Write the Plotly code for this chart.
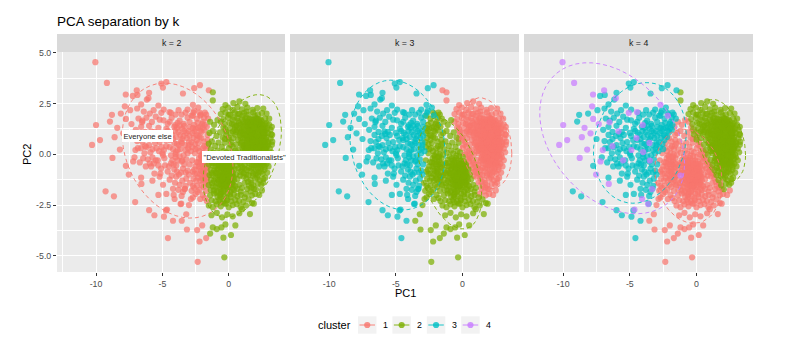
import numpy as np
import plotly.graph_objects as go

# ------------------------------------------------------------------ data
facet_k = [2, 3, 4]
clusters = ["1", "2", "3", "4"]
x_tickvals = [-10, -5, 0]
x_ticktext = ["-10", "-5", "0"]
y_tickvals = [-5, -2.5, 0, 2.5, 5]
y_ticktext = ["-5.0", "-2.5", "0.0", "2.5", "5.0"]

label_text = ["Everyone else", '"Devoted Traditionalists"']
label_pc1 = [-6.12, 1.21]
label_pc2 = [0.9, -0.13]

# (PC1, PC2) points, grouped by the cluster they get for k = 2, 3, 4
pts_1_3_4 = [(-10.05, 4.53), (-9.18, 3.51), (-6.93, 3.14), (-7.76, 2.94), (-6.05, 2.76), (-7.83, 2.36),
             (-7.75, 1.74), (-10.0, 1.44), (-8.4, 1.3), (-7.95, 1.03), (-9.7, 0.7), (-10.3, 0.46),
             (-8.6, 0.84), (-8.2, 0.23), (-7.03, 0.21), (-8.76, -0.18), (-7.53, -1.0), (-7.33, 1.49),
             (-6.53, 1.58), (-5.85, 1.13), (-5.08, 2.04), (-4.46, 2.07), (-4.03, 1.44), (-4.88, 0.21),
             (-3.53, 0.56), (-3.5, -0.31), (-2.7, 2.43), (-2.15, 1.9), (-6.58, -1.46), (-4.08, -2.2),
             (-3.33, -1.71), (-4.65, -2.72), (-4.0, 0.11), (-3.63, -2.45), (-6.3, 0.4), (-5.5, -0.3),
             (-4.5, 0.8), (-7.2, -0.35)]

pts_1_3_3 = [(-7.23, 2.87), (-6.88, 2.92), (-6.0, 3.02), (-5.08, 3.48), (-4.96, 3.28), (-4.7, 3.55),
             (-3.45, 2.99), (-2.6, 3.25), (-2.17, 3.4),
             (-7.43, 2.17), (-8.13, 2.0), (-8.8, 1.94), (-8.95, 1.61), (-7.75, -0.57),
             (-9.28, -1.82), (-8.65, -2.07), (-7.05, -2.35),
             (-6.17, 2.69), (-5.66, 2.17), (-5.3, 2.4), (-6.6, 2.45),
             (-6.9, 2.25), (-3.1, 2.2), (-3.78, 2.17), (-4.36, 2.04), (-6.4, 2.1), (-5.95, 2.0),
             (-4.9, 2.2), (-2.3, 2.3),
             (-6.8, 1.76), (-6.5, 1.65), (-6.2, 1.8), (-5.79, 1.59), (-5.5, 1.85), (-5.2, 1.7),
             (-4.91, 1.67), (-4.6, 1.5), (-4.3, 1.8), (-4.0, 1.95), (-3.7, 1.65), (-3.4, 1.5), (-3.1, 1.8),
             (-2.8, 1.9), (-7.0, 1.2), (-6.6, 1.35), (-6.3, 1.1), (-6.0, 1.4), (-5.6, 1.1),
             (-5.3, 1.3), (-5.0, 1.05), (-4.7, 1.25), (-4.4, 1.05), (-4.1, 1.35), (-3.8, 1.1), (-3.5, 1.25),
             (-3.2, 1.05), (-2.95, 1.35),
             (-7.5, 0.75), (-6.9, 0.65), (-6.6, 0.3), (-6.3, 0.75), (-6.0, 0.45),
             (-5.7, 0.8), (-5.45, 0.3), (-5.2, 0.6), (-4.9, 0.9), (-4.7, 0.4), (-4.45, 0.7), (-4.2, 0.25),
             (-3.95, 0.85), (-3.75, 0.45), (-3.5, 0.75), (-3.25, 0.2), (-3.0, 0.6), (-2.85, 0.15),
             (-5.9, 0.1), (-5.0, 0.05), (-4.0, 0.0), (-3.4, -0.05),
             (-6.7, -0.4), (-6.1, -0.25), (-5.85, -0.6),
             (-5.6, -0.95), (-5.35, -0.3), (-5.1, -0.7), (-4.85, -0.2), (-4.6, -0.85), (-4.35, -0.45),
             (-4.1, -0.75), (-3.85, -0.3), (-3.6, -0.9), (-3.35, -0.5), (-3.1, -0.8), (-5.75, -0.15),
             (-4.0, -0.15),
             (-6.6, -1.15), (-5.75, -1.3),
             (-5.2, -1.1), (-4.95, -1.5), (-4.7, -1.95), (-4.45, -1.25), (-4.2, -1.7),
             (-3.95, -1.1), (-3.7, -1.5), (-3.45, -1.85), (-3.2, -1.2),
             (-5.3, -2.0),
             (-6.0, -2.75), (-4.73, -2.76), (-3.58, -2.43),
             (-5.6, -3.0), (-4.88, -3.07), (-4.2, -3.27), (-4.58, -4.12),
             (-2.6, 2.15),
             (-3.55, 1.95), (-3.25, 2.05), (-2.95, 1.6), (-2.65, 2.05), (-3.85, 1.55), (-4.45, 1.6),
             (-3.65, 0.95), (-3.35, 1.4), (-3.05, 1.15), (-2.95, 0.9), (-4.25, 0.95), (-3.9, 1.3), (-4.6, 1.15),
             (-4.1, 0.55), (-3.85, 0.2), (-3.6, 0.65), (-3.3, 0.45), (-3.05, 0.3), (-4.45, 0.35), (-3.15, 0.8),
             (-4.25, -0.3), (-3.95, -0.55), (-3.7, -0.1), (-3.45, -0.7), (-3.2, -0.25), (-2.95, -0.5),
             (-4.5, -0.6), (-4.3, -1.05), (-4.05, -1.4), (-3.75, -1.0), (-3.5, -1.3), (-3.25, -1.55),
             (-3.0, -1.0), (-4.15, -2.0), (-3.8, -1.75), (-3.55, -2.05), (-3.3, -1.7),
             (-4.2, 0.75), (-3.9, 0.5), (-3.65, 0.25), (-3.4, 0.9), (-3.1, 0.05), (-4.35, -0.05),
             (-3.55, -0.35), (-3.25, -0.9), (-3.9, -0.85), (-4.15, -0.5), (-3.0, 0.45), (-3.7, 1.4),
             (-4.05, 1.15), (-3.35, 1.15),
             (-6.85, 0.3), (-6.45, -0.2), (-6.2, 0.35), (-5.95, -0.45), (-5.55, 0.55), (-5.3, -0.55),
             (-5.05, 0.35), (-6.6, 0.95), (-6.25, -0.6), (-5.8, 1.0), (-5.45, 0.95), (-7.1, -0.15),
             (-5.15, -0.95), (-5.75, 0.25), (-6.05, 0.9), (-6.5, 0.6), (-4.8, -0.55), (-4.75, 0.7),
             (-5.25, 0.15), (-6.35, 0.05), (-5.65, -0.45), (-4.95, -0.05)]

pts_1_2_3 = [(-2.7, 1.9), (-2.4, 1.75), (-2.1, 1.95), (-1.85, 1.8), (-2.6, 1.45), (-2.3, 1.3), (-2.0, 1.5),
             (-2.75, 1.05), (-2.45, 0.95), (-2.15, 1.15), (-2.8, 0.6), (-2.55, 0.5), (-1.8, 2.05),
             (-2.2, 2.05), (-1.95, 1.6), (-1.7, 1.95), (-2.35, 1.55), (-2.15, 1.35), (-1.8, 1.45),
             (-2.05, 1.1), (-1.85, 1.2), (-2.6, 1.15), (-2.4, 0.7), (-2.2, 0.85), (-2.65, 0.8),
             (-2.5, 0.25), (-2.75, 0.35), (-1.55, 1.75), (-2.5, 1.25), (-1.95, 1.3), (-2.7, 1.3),
             (-2.35, 0.92)]

pts_1_2_1 = [(-1.65, 1.35), (-1.6, 0.95), (-2.3, 0.55), (-2.05, 0.8), (-1.85, 0.4), (-1.6, 0.7), (-2.2, 0.15),
             (-1.95, 0.05), (-1.7, 0.25), (-2.75, -0.3), (-2.5, -0.6), (-2.25, -0.2), (-2.0, -0.5),
             (-1.75, -0.3), (-2.7, -0.85), (-2.4, -0.95), (-2.1, -0.8), (-1.85, -0.95), (-1.6, -0.65),
             (-2.9, -1.4), (-2.65, -1.2), (-2.4, -1.55), (-2.15, -1.3), (-1.9, -1.6), (-1.65, -1.25),
             (-2.8, -1.8), (-2.5, -1.95), (-2.2, -1.75), (-1.95, -2.0), (-1.7, -1.8), (-3.0, -2.5),
             (-2.7, -2.12), (-2.15, -2.2), (-1.65, -2.3),
             (-3.2, -2.95), (-3.54, -3.27), (-3.15, -3.7),
             (-2.38, -3.73), (-2.2, -4.29), (-1.7, -4.12), (-2.34, -5.29), (-2.0, -3.5),
             (-2.35, 0.3), (-1.62, 0.42), (-1.88, 0.62), (-2.12, -0.05), (-2.42, -0.38), (-1.58, -0.2),
             (-1.9, -0.7), (-2.25, -0.6), (-2.55, -0.95), (-1.7, -1.05), (-2.0, -1.2), (-2.3, -1.15),
             (-2.7, -1.55), (-1.6, -1.5), (-2.05, -1.5), (-2.35, -1.85), (-1.8, -2.15), (-2.6, -1.65),
             (-2.85, -2.2), (-2.55, 0.05), (-2.3, -0.4), (-2.05, -0.25), (-1.8, -0.5), (-1.7, 0.0),
             (-2.6, -0.75), (-2.15, -1.0), (-1.75, -1.35), (-2.45, -1.3), (-1.95, -0.85),
             (-1.65, -0.45), (-1.85, -0.15), (-1.6, -0.9), (-1.95, 0.3),
             (-2.18, -0.72), (-2.08, -0.12), (-1.98, -1.05), (-1.92, -0.38), (-1.83, -0.77), (-1.76, -0.12),
             (-1.68, -0.62), (-1.62, -1.12), (-2.12, -0.45), (-1.88, -1.25)]

pts_1_1_3 = [(-1.5, 3.15)]

pts_2_2_1 = [(-1.4, 1.6), (-1.1, 1.45), (-0.85, 1.68), (-1.45, 1.05), (-1.2, 1.15), (-0.92, 0.9), (-0.65, 1.08),
             (-0.45, 0.82), (-1.5, 0.52), (-1.27, 0.63), (-1.02, 0.41), (-0.77, 0.58), (-0.52, 0.36),
             (-0.3, 0.57), (-1.35, 0.24), (-0.85, 0.18), (-0.38, 0.16), (-1.47, -0.02), (-1.18, 0.08),
             (-0.96, -0.12), (-0.7, 0.04), (-0.46, -0.07), (-0.18, 0.09), (0.02, -0.13), (-1.1, -0.27),
             (-0.6, -0.29), (-0.1, -0.31), (-1.5, -0.5), (-1.26, -0.43), (-1.0, -0.6), (-0.76, -0.46),
             (-0.5, -0.57), (-0.26, -0.42), (0.0, -0.62), (0.25, -0.5), (-1.36, -0.77), (-1.1, -0.81),
             (-0.86, -0.74), (-0.61, -0.82), (-0.35, -0.76), (-0.11, -0.78), (0.15, -0.73), (-1.45, -1.02),
             (-0.95, -0.93), (-0.7, -1.07), (-0.45, -0.97), (-0.2, -1.12), (0.05, -0.92), (0.3, -1.06),
             (0.55, -1.0), (-1.34, -1.26), (-1.1, -1.31), (-0.84, -1.24), (-0.6, -1.27), (-0.34, -1.23),
             (-0.09, -1.31), (0.16, -1.26), (0.41, -1.29), (0.66, -1.22), (-1.5, -1.52), (-1.25, -1.42),
             (-1.0, -1.6), (-0.75, -1.47), (-0.5, -1.56), (-0.25, -1.41), (0.0, -1.62), (0.25, -1.46),
             (0.5, -1.57), (0.8, -1.5), (1.0, -1.65), (-1.36, -1.76), (-1.12, -1.78), (-0.86, -1.81),
             (-0.61, -1.72), (-0.36, -1.77), (-0.11, -1.71), (0.14, -1.82), (0.39, -1.76), (0.64, -1.71),
             (0.9, -1.83), (-1.4, -2.02), (-1.1, -1.93), (-0.85, -2.1), (-0.6, -1.96), (-0.35, -2.06),
             (-0.1, -1.92), (0.15, -2.1), (0.4, -1.97), (0.65, -2.06), (0.9, -2.0), (1.2, -2.12), (1.5, -2.22),
             (-1.29, -2.26), (-1.0, -2.31), (-0.71, -2.24), (-0.42, -2.32), (-0.12, -2.26), (0.19, -2.31),
             (0.49, -2.24), (0.79, -2.3), (1.1, -2.35), (1.75, -2.4), (-1.5, -2.52), (-1.2, -2.6),
             (-0.9, -2.46), (-0.6, -2.56), (-0.3, -2.42), (0.0, -2.61), (0.3, -2.5), (0.6, -2.45),
             (0.9, -2.6), (1.3, -2.52), (1.89, -2.43), (-1.3, -3.0), (-0.9, -2.88), (-0.5, -3.1),
             (-0.1, -2.95), (0.3, -3.05), (0.8, -2.9), (1.0, -2.7), (1.6, -2.94), (-1.2, -3.6), (-0.9, -3.68),
             (-0.55, -3.6), (-0.25, -3.45), (0.17, -3.97), (-0.4, -4.1), (-1.4, -3.9), (0.5, -3.5),
             (-0.33, -5.07),
             (-0.9, -1.4), (-0.5, -1.0), (-0.2, -1.6), (0.2, -1.1), (-0.7, -0.3), (-0.3, -0.6), (0.1, -0.35),
             (-1.0, -0.9), (-0.6, -2.1), (0.3, -1.7), (-0.4, -1.35), (-0.8, -0.7), (0.0, -1.2), (-1.2, -0.55),
             (0.45, -0.75), (-0.55, -1.85), (-0.25, -0.85), (0.1, -0.6),
             (-0.82, -1.02), (-0.57, -1.18), (-0.33, -0.93), (-0.08, -1.07), (0.18, -0.88), (-0.71, -1.63),
             (-0.46, -1.38), (-0.22, -1.53), (0.04, -1.38), (0.28, -1.33), (-0.94, -1.88), (-0.67, -2.02),
             (-0.41, -1.84), (-0.16, -2.17), (0.09, -1.97), (-1.06, -0.42), (-0.81, -0.21), (-0.56, -0.68),
             (-0.31, -0.31), (-0.05, -0.46), (-1.18, -1.58), (-0.99, -1.17), (-0.73, -0.58), (-0.48, -0.19),
             (-0.24, -0.09), (0.21, -0.79), (-1.27, -0.93), (0.36, -1.51), (-0.62, -2.37), (-0.2, -2.43),
             (-0.77, -0.52), (-0.64, -1.13), (-0.52, -0.83), (-0.43, -1.47), (-0.36, -0.51), (-0.27, -1.17),
             (-0.19, -0.68), (-0.12, -1.43), (-0.04, -0.97), (0.07, -1.22), (0.13, -0.47), (0.22, -1.37),
             (0.31, -0.91), (0.38, -1.12), (-0.69, -0.92), (-0.58, -1.52), (-0.47, -0.63), (-0.38, -1.08),
             (-0.29, -1.52), (-0.17, -0.87), (-0.06, -1.28), (0.03, -0.72), (0.11, -1.51), (0.19, -1.02),
             (0.27, -0.61), (-0.73, -1.31), (-0.61, -0.41), (-0.49, -1.22), (-0.23, -0.52), (0.08, -1.08)]

pts_2_2_4 = [(-1.2, -1.05)]

pts_2_1_1 = [(-0.6, 1.6), (-0.4, 1.32), (-0.2, 1.12), (-0.28, 0.75), (0.0, 0.82), (0.2, 0.6), (0.02, 0.3),
             (0.3, 0.38), (0.5, 0.18), (0.22, 0.0), (0.47, -0.1), (0.7, 0.05), (0.5, -0.35), (0.76, -0.3),
             (0.95, -0.52), (0.72, -0.7), (0.97, -0.8), (1.2, -0.7), (0.85, -1.05), (1.1, -1.1), (1.3, -1.0),
             (1.2, -1.4), (1.45, -1.35), (1.7, -1.42), (1.4, -1.7), (1.65, -1.82), (1.9, -1.7), (1.75, -2.02),
             (2.0, -1.95), (1.3, -1.95), (2.3, -2.0), (2.5, -1.78),
             (0.31, 0.11), (0.58, -0.16), (0.83, -0.44), (1.04, -0.63), (0.12, 0.47), (0.62, -0.55),
             (0.88, -0.87), (1.14, -0.92), (1.33, -1.18), (1.52, -1.55), (1.71, -1.63), (0.43, -0.22)]

pts_2_1_2 = [(-1.2, 3.05), (-1.2, 2.65),
             (0.35, 2.52), (0.8, 2.6), (1.25, 2.48), (-0.25, 2.42),
             (-0.45, 2.22), (-0.05, 2.3), (0.3, 2.18), (0.65, 2.33), (1.0, 2.21), (1.4, 2.3), (1.8, 2.19),
             (2.15, 2.27), (2.6, 2.25),
             (-0.6, 1.98), (-0.25, 2.05), (0.1, 1.95), (0.45, 2.06), (0.8, 1.97), (1.15, 2.04), (1.5, 1.95),
             (1.85, 2.06), (2.2, 1.96), (2.5, 2.02), (2.85, 2.0),
             (-0.4, 1.73), (-0.05, 1.8), (0.3, 1.7), (0.65, 1.78), (1.0, 1.72), (1.35, 1.79), (1.7, 1.71),
             (2.05, 1.78), (2.4, 1.72), (2.75, 1.76), (3.05, 1.75),
             (-0.3, 1.48), (0.05, 1.55), (0.4, 1.46), (0.75, 1.53), (1.1, 1.47), (1.45, 1.55), (1.8, 1.46),
             (2.15, 1.53), (2.5, 1.47), (2.85, 1.52), (3.05, 1.45),
             (-0.25, 1.22), (0.1, 1.29), (0.45, 1.21), (0.8, 1.28), (1.15, 1.2), (1.5, 1.27), (1.85, 1.22),
             (2.2, 1.29), (2.55, 1.21), (2.9, 1.27), (3.15, 1.2), (3.25, 1.35),
             (-0.2, 0.98), (0.15, 1.04), (0.5, 0.96), (0.85, 1.03), (1.2, 0.97), (1.55, 1.04), (1.9, 0.96),
             (2.25, 1.03), (2.6, 0.97), (2.95, 1.04), (3.2, 0.98), (3.27, 0.95),
             (0.0, 0.73), (0.35, 0.8), (0.7, 0.71), (1.05, 0.78), (1.4, 0.72), (1.75, 0.79), (2.1, 0.71),
             (2.45, 0.78), (2.8, 0.72), (3.15, 0.77), (3.28, 0.62),
             (0.55, 0.48), (0.9, 0.55), (1.25, 0.46), (1.6, 0.53), (1.95, 0.47), (2.3, 0.54), (2.65, 0.46),
             (3.0, 0.52), (3.25, 0.47),
             (0.7, 0.22), (1.05, 0.29), (1.4, 0.21), (1.75, 0.28), (2.1, 0.2), (2.45, 0.27), (2.8, 0.22),
             (3.1, 0.28), (3.2, 0.1),
             (0.85, -0.02), (1.2, 0.05), (1.55, -0.04), (1.9, 0.03), (2.25, -0.03), (2.6, 0.04), (2.9, -0.02),
             (1.05, -0.27), (1.4, -0.2), (1.75, -0.28), (2.1, -0.21), (2.45, -0.27), (2.8, -0.22), (3.1, -0.3),
             (1.2, -0.52), (1.55, -0.45), (1.9, -0.53), (2.25, -0.46), (2.6, -0.52), (2.85, -0.47), (3.0, -0.6),
             (1.35, -0.77), (1.7, -0.7), (2.05, -0.78), (2.4, -0.71), (2.7, -0.76), (2.9, -0.9),
             (1.5, -1.02), (1.85, -0.95), (2.2, -1.03), (2.55, -0.96), (2.75, -1.15),
             (1.65, -1.27), (2.0, -1.2), (2.35, -1.28), (2.6, -1.22), (2.6, -1.4),
             (1.85, -1.52), (2.2, -1.45), (2.45, -1.5), (2.05, -1.72),
             (1.0, 0.6), (1.3, 0.9), (1.6, 1.2), (1.9, 0.4), (2.2, 0.8), (2.5, 1.1), (1.1, 1.6), (1.45, 0.1),
             (1.8, -0.3), (2.1, 0.0), (2.4, -0.4), (2.0, 1.45), (2.35, 0.35), (0.6, 1.4), (0.9, 1.1),
             (1.25, 1.75), (1.7, 0.65), (2.65, 0.65), (1.5, -0.65), (2.05, -0.95), (2.3, 1.6), (1.15, 0.35),
             (1.95, 1.9), (1.4, 1.35), (2.7, 1.3), (1.65, -0.15), (2.25, 0.15), (1.05, 1.35), (1.85, 0.85),
             (0.4, 1.8), (0.7, 2.0), (1.05, 1.9), (1.35, 2.1), (1.65, 1.6), (2.0, 1.15), (2.3, 1.35),
             (2.6, 0.85), (2.85, 0.3), (2.55, -0.15), (2.2, -0.7), (1.95, -0.15), (1.6, 0.35), (1.3, 0.55),
             (1.1, 0.15), (1.35, -0.35), (2.7, -0.4), (2.45, -0.85), (2.15, -1.15), (1.8, -1.05), (0.9, 0.8),
             (0.55, 1.1), (0.25, 1.5), (0.0, 1.95), (1.5, 0.75), (1.75, 0.45), (2.05, 0.6), (2.4, 0.55),
             (2.75, 1.0), (2.95, 0.6),
             (1.12, 0.42), (1.38, 0.66), (1.57, 0.91), (1.83, 1.08), (2.08, 1.27), (2.36, 0.93), (2.54, 0.41),
             (2.27, 0.12), (1.99, -0.08), (1.71, -0.36), (1.46, -0.12), (1.24, 0.18), (0.96, 0.47),
             (0.83, 0.93), (0.62, 1.21), (0.88, 1.46), (1.16, 1.13), (1.42, 1.57), (1.73, 1.37), (1.97, 1.62),
             (2.21, 1.44), (2.47, 1.63), (2.68, 1.17), (2.83, 0.84), (2.62, 0.31), (2.39, -0.13),
             (2.14, -0.44), (1.88, -0.67), (1.63, -0.83), (1.92, 0.22), (1.68, 0.04), (1.31, 0.36),
             (1.53, 0.58), (1.78, 0.74), (2.02, 0.88), (2.31, 0.67), (2.57, 0.58), (2.74, 0.09),
             (2.49, -0.58), (2.27, -0.87), (2.03, -0.51), (1.81, 0.13), (1.56, 0.24), (1.19, 0.81),
             (0.98, 1.19), (1.28, 1.43), (1.59, 1.74), (1.86, 1.58), (2.12, 1.74), (2.41, 1.31),
             (2.66, 0.97), (2.92, 0.43), (2.96, -0.15), (2.71, -0.63), (2.44, 0.08), (2.16, 0.37),
             (1.94, 0.61), (1.67, 1.03), (1.44, 1.18), (1.09, 1.03), (0.72, 1.63), (0.49, 1.37), (0.31, 1.12),
             (1.34, 1.62), (1.52, 1.41), (1.61, 0.82), (1.77, 1.21), (1.86, 0.33), (1.93, -0.38), (2.04, 1.52),
             (2.11, 0.47), (2.19, 1.09), (2.26, -0.24), (2.33, 0.82), (2.38, 1.52), (2.46, 0.19), (2.52, 0.97),
             (2.58, -0.36), (2.63, 1.44), (2.69, 0.52), (2.74, -0.08), (2.78, 1.21), (1.41, 0.48),
             (1.48, -0.27), (1.63, 1.48), (1.69, 0.19), (1.74, -0.52), (1.81, 1.71), (1.89, 0.95),
             (1.96, -0.22), (2.07, 0.33), (2.13, 1.61), (2.22, 0.58), (2.29, -0.55), (2.35, 1.18),
             (2.42, 0.71), (2.48, -0.42), (2.56, 1.27), (2.61, 0.12), (2.67, 0.78), (2.72, 1.52), (2.77, 0.36),
             (1.36, 0.97), (1.44, 0.29), (1.58, 1.12), (1.66, -0.08), (1.72, 0.93), (1.79, 0.58),
             (1.84, -0.17), (1.91, 1.33), (1.99, 0.71), (2.06, -0.33), (2.14, 0.93), (2.21, 0.24),
             (2.28, 1.72), (2.34, -0.07), (2.41, 0.39), (2.47, 1.21), (2.53, 0.63), (2.59, -0.16),
             (2.66, 1.06), (2.71, 0.24), (2.76, 0.62)]

point_groups = [
    (pts_1_3_4, (1, 3, 4)),
    (pts_1_3_3, (1, 3, 3)),
    (pts_1_2_3, (1, 2, 3)),
    (pts_1_2_1, (1, 2, 1)),
    (pts_1_1_3, (1, 1, 3)),
    (pts_2_2_1, (2, 2, 1)),
    (pts_2_2_4, (2, 2, 4)),
    (pts_2_1_1, (2, 1, 1)),
    (pts_2_1_2, (2, 1, 2)),
]

# ------------------------------------------------------------------ style
colors = ["#F8766D", "#7CAE00", "#00BFC4", "#C77CFF"]
FONT = "Liberation Sans, Arial, sans-serif"
W, H = 800, 347
L, R, T, B = 57, 47, 52, 75
PW, PH = W - L - R, H - T - B
panels_px = [(57, 285), (290, 519), (524, 753)]
x_range = [-12.94, 4.24]
y_range = [-5.79, 5.03]


def px2x(px):
    return (px - L) / PW


def py2y(py):
    return (H - B - py) / PH


# ------------------------------------------------------------------ assemble points
pc1, pc2 = [], []
labels = {k: [] for k in facet_k}
for pts, labs in point_groups:
    for a, b in pts:
        pc1.append(a)
        pc2.append(b)
        for k, lab in zip(facet_k, labs):
            labels[k].append(lab)
pc1 = np.array(pc1)
pc2 = np.array(pc2)


def cov_trob(X, nu=5, maxit=25, tol=0.01):
    n, p = X.shape
    wt = np.ones(n)
    loc = X.mean(axis=0)
    w = np.sqrt(wt)
    Xc = X - loc
    for _ in range(maxit):
        w0 = w
        Xc = X - loc
        A = np.sqrt(w / w.sum())[:, None] * Xc
        _, d, Vt = np.linalg.svd(A, full_matrices=False)
        wX = Xc @ Vt.T @ np.diag(1.0 / d)
        Q = (wX ** 2).sum(axis=1)
        w = (wt * (nu + p)) / (nu + Q)
        loc = (w[:, None] * X).sum(axis=0) / w.sum()
        if np.all(np.abs(w - w0) < tol):
            break
    S = np.sqrt(w)[:, None] * Xc
    return loc, S.T @ S / wt.sum()


def stat_ellipse(x, y, level=0.95, segments=51):
    X = np.column_stack([x, y])
    n = len(x)
    center, shape = cov_trob(X)
    chol = np.linalg.cholesky(shape).T
    d2 = n - 1
    fq = (d2 / 2.0) * ((1 - level) ** (-2.0 / d2) - 1)
    radius = np.sqrt(2 * fq)
    ang = np.arange(segments + 1) * 2 * np.pi / segments
    unit = np.column_stack([np.cos(ang), np.sin(ang)])
    e = center + radius * unit @ chol
    return e[:, 0], e[:, 1]


fig = go.Figure()
for i, k in enumerate(facet_k):
    xa = "x" if i == 0 else f"x{i + 1}"
    ya = "y" if i == 0 else f"y{i + 1}"
    lab = np.array(labels[k])
    for ci, c in enumerate(clusters):
        m = lab == int(c)
        if m.sum() == 0:
            continue
        fig.add_trace(go.Scatter(x=pc1[m], y=pc2[m], mode="markers", xaxis=xa, yaxis=ya,
                                 marker=dict(size=6.2, color=colors[ci], opacity=0.72),
                                 showlegend=False, hoverinfo="skip"))
    for ci, c in enumerate(clusters):
        m = lab == int(c)
        if m.sum() < 3:
            continue
        ex, ey = stat_ellipse(pc1[m], pc2[m])
        fig.add_trace(go.Scatter(x=ex, y=ey, mode="lines", xaxis=xa, yaxis=ya,
                                 line=dict(color=colors[ci], width=0.9, dash="4px,3px"),
                                 showlegend=False, hoverinfo="skip"))

# labels in first facet
for t, a, b in zip(label_text, label_pc1, label_pc2):
    fig.add_annotation(x=a, y=b, xref="x", yref="y", text=t, showarrow=False,
                       font=dict(family=FONT, size=7.6, color="#1A1A1A"),
                       bgcolor="white", borderpad=1.5, borderwidth=0)

axis_common = dict(range=x_range, showgrid=True, gridcolor="white", gridwidth=1.1, zeroline=False,
                   tickmode="array", tickvals=x_tickvals, ticktext=x_ticktext, ticks="outside",
                   ticklen=3, tickwidth=1, tickcolor="#333333",
                   tickfont=dict(family=FONT, size=8.8, color="#4D4D4D"),
                   minor=dict(tickmode="array", tickvals=[-12.5, -7.5, -2.5, 2.5], showgrid=True,
                              gridcolor="white", gridwidth=0.55, ticks=""),
                   showline=False, automargin=False, fixedrange=True)
yaxis_common = dict(range=y_range, showgrid=True, gridcolor="white", gridwidth=1.1, zeroline=False,
                    tickmode="array", tickvals=y_tickvals, ticktext=y_ticktext, ticks="outside",
                    ticklen=3, tickwidth=1, tickcolor="#333333",
                    tickfont=dict(family=FONT, size=8.8, color="#4D4D4D"),
                    minor=dict(tickmode="array", tickvals=[-3.75, -1.25, 1.25, 3.75], showgrid=True,
                               gridcolor="white", gridwidth=0.55, ticks=""),
                    showline=False, automargin=False, fixedrange=True)

layout = dict(width=W, height=H, autosize=False, margin=dict(l=L, r=R, t=T, b=B),
              paper_bgcolor="white", plot_bgcolor="#EBEBEB", showlegend=False,
              font=dict(family=FONT),
              title=dict(text="PCA separation by k", x=L / W, xanchor="left", xref="container",
                         y=1 - 21 / H, yanchor="middle", yref="container",
                         font=dict(family=FONT, size=13.5, color="black")))
for i in range(3):
    d0, d1 = px2x(panels_px[i][0]), px2x(panels_px[i][1])
    xname = "xaxis" if i == 0 else f"xaxis{i + 1}"
    yname = "yaxis" if i == 0 else f"yaxis{i + 1}"
    layout[xname] = dict(axis_common, domain=[d0, d1], anchor="y" if i == 0 else f"y{i + 1}")
    yd = dict(yaxis_common, domain=[0, 1], anchor="x" if i == 0 else f"x{i + 1}")
    if i > 0:
        yd["showticklabels"] = False
        yd["ticks"] = ""
    layout[yname] = yd
fig.update_layout(**layout)

# strips
for i, k in enumerate(facet_k):
    d0, d1 = px2x(panels_px[i][0]), px2x(panels_px[i][1])
    fig.add_shape(type="rect", xref="paper", yref="paper", x0=d0, x1=d1, y0=1, y1=1 + 18 / PH,
                  fillcolor="#D9D9D9", line=dict(width=0), layer="below")
    fig.add_annotation(x=(d0 + d1) / 2, y=1 + 9 / PH, xref="paper", yref="paper", text=f"k = {k}",
                       showarrow=False, font=dict(family=FONT, size=8.8, color="#1A1A1A"),
                       xanchor="center", yanchor="middle")

# axis titles
fig.add_annotation(x=px2x(27), y=py2y(154), xref="paper", yref="paper", text="PC2", textangle=-90,
                   showarrow=False, font=dict(family=FONT, size=11, color="black"),
                   xanchor="center", yanchor="middle")
fig.add_annotation(x=px2x(405), y=py2y(293), xref="paper", yref="paper", text="PC1",
                   showarrow=False, font=dict(family=FONT, size=11, color="black"),
                   xanchor="center", yanchor="middle")

# legend (drawn by hand, ggplot style)
leg_y = 325
fig.add_annotation(x=px2x(353), y=py2y(leg_y), xref="paper", yref="paper", text="cluster",
                   showarrow=False, font=dict(family=FONT, size=11, color="black"),
                   xanchor="right", yanchor="middle")
for ci, c in enumerate(clusters):
    x0 = 358 + 34.4 * ci
    fig.add_shape(type="rect", xref="paper", yref="paper", x0=px2x(x0), x1=px2x(x0 + 18.5),
                  y0=py2y(leg_y + 8.7), y1=py2y(leg_y - 8.7), fillcolor="#F2F2F2", line=dict(width=0))
    fig.add_shape(type="line", xref="paper", yref="paper", x0=px2x(x0 + 1.5), x1=px2x(x0 + 17),
                  y0=py2y(leg_y), y1=py2y(leg_y), line=dict(color=colors[ci], width=0.9))
    fig.add_shape(type="circle", xref="paper", yref="paper", xsizemode="pixel", ysizemode="pixel",
                  xanchor=px2x(x0 + 9.25), yanchor=py2y(leg_y), x0=-3.1, x1=3.1, y0=-3.1, y1=3.1,
                  fillcolor=colors[ci], opacity=0.8, line=dict(width=0))
    fig.add_annotation(x=px2x(x0 + 23), y=py2y(leg_y), xref="paper", yref="paper", text=c,
                       showarrow=False, font=dict(family=FONT, size=8.8, color="black"),
                       xanchor="left", yanchor="middle")

fig.write_html("out.html")
